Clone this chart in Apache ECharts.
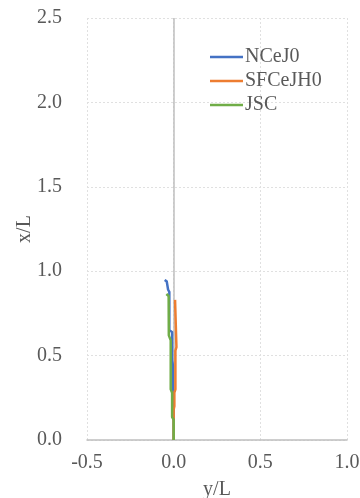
<!DOCTYPE html>
<html><head><meta charset="utf-8">
<script src="https://cdn.jsdelivr.net/npm/echarts@6/dist/echarts.min.js"></script>
<style>html,body{margin:0;padding:0;background:#fff}#c{width:360px;height:498px}</style>
</head><body><div id="c"></div>
<script>
const seriesNames = ['NCeJ0', 'SFCeJH0', 'JSC'];
const colors = ['#4472C4', '#ED7D31', '#70AD47'];
const xTicks = [-0.5, 0.0, 0.5, 1.0];
const yTicks = [0.0, 0.5, 1.0, 1.5, 2.0, 2.5];
// [y/L, x/L]
const nceJ0 = [[-0.052, 0.948], [-0.04, 0.94], [-0.032, 0.93], [-0.032, 0.89], [-0.025, 0.877], [-0.025, 0.65], [-0.009, 0.64], [-0.009, 0.474], [-0.004, 0.44], [-0.004, 0.3], [0.0, 0.2], [0.0, 0.0]];
const sfceJH0 = [[0.008, 0.83], [0.016, 0.82], [0.016, 0.55], [0.01, 0.53], [0.01, 0.3], [0.004, 0.28], [0.004, 0.2], [0.0, 0.18], [0.0, 0.0]];
const jsc = [[-0.042, 0.865], [-0.029, 0.853], [-0.028, 0.62], [-0.017, 0.59], [-0.017, 0.3], [-0.009, 0.28], [-0.009, 0.136], [0.0, 0.12], [0.0, 0.0]];
const dataSets = [nceJ0, sfceJH0, jsc];

const font = 'Liberation Serif';
const chart = echarts.init(document.getElementById('c'));
chart.setOption({
  animation: false,
  grid: { left: 87, right: 13, top: 18, bottom: 58, containLabel: false, outerBoundsMode: 'none' },
  legend: {
    orient: 'vertical', left: 205, top: 40, itemGap: 0,
    icon: 'rect', itemWidth: 33, itemHeight: 2.5,
    textStyle: { fontFamily: font, fontSize: 20, color: '#595959', lineHeight: 24, padding: [0, 0, 0, -3] },
    data: seriesNames
  },
  xAxis: {
    type: 'value', min: -0.5, max: 1.0, interval: 0.5,
    name: 'y/L', nameLocation: 'middle', nameGap: 40, nameMoveOverlap: false,
    nameTextStyle: { fontFamily: font, fontSize: 20, color: '#595959' },
    axisLine: { show: true, onZero: false, lineStyle: { color: '#bfbfbf', width: 1.5 } },
    axisTick: { show: false },
    axisLabel: { fontFamily: font, fontSize: 20, color: '#595959', margin: 13, formatter: v => xTicks.includes(v) ? v.toFixed(1) : '' },
    splitLine: { show: true, lineStyle: { color: '#e0e0e0', type: [2, 2], width: 1 } }
  },
  yAxis: {
    type: 'value', min: 0, max: 2.5, interval: 0.5,
    name: 'x/L', nameLocation: 'middle', nameGap: 52, nameMoveOverlap: false,
    nameTextStyle: { fontFamily: font, fontSize: 20, color: '#595959' },
    axisLine: { show: false },
    axisTick: { show: false },
    axisLabel: { fontFamily: font, fontSize: 20, color: '#595959', margin: 25, formatter: v => yTicks.includes(v) ? v.toFixed(1) : '' },
    splitLine: { show: true, lineStyle: { color: '#e0e0e0', type: [2, 2], width: 1 } }
  },
  series: dataSets.map((d, i) => ({
    name: seriesNames[i], type: 'line', data: d, showSymbol: false, symbol: 'none',
    lineStyle: { color: colors[i], width: 2.5 }, itemStyle: { color: colors[i] },
    z: 3 + i,
    markLine: i === 0 ? { silent: true, symbol: 'none', label: { show: false },
      lineStyle: { color: '#bfbfbf', type: 'solid', width: 1.5 }, data: [{ xAxis: 0 }], z: 1 } : undefined
  }))
});
</script></body></html>
